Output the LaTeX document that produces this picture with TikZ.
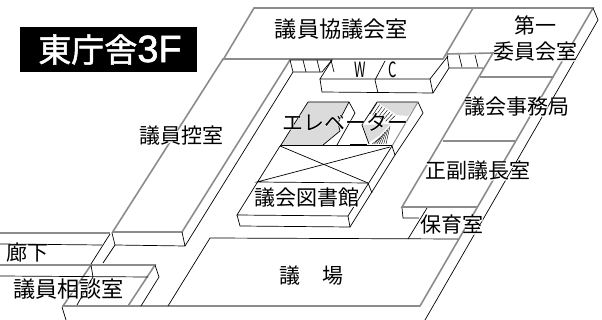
\documentclass[tikz,border=0pt]{standalone}
\usepackage{graphicx}
\usepackage{fontspec}
\setmainfont{Noto Sans CJK JP}
\newfontfamily\halofont[FakeBold=4]{Noto Sans CJK JP}
\newfontfamily\titlekanji[FakeBold=1.5]{Noto Sans CJK JP}
\newfontfamily\titlefont[FakeBold=1.5]{Liberation Sans}
\definecolor{wallgray}{gray}{0.55}
\definecolor{floorgray}{gray}{0.86}
\tikzset{
    wall/.style={color=wallgray, line width=1.6pt},
    edge/.style={color=black, line width=0.7pt},
    roomtext/.style={inner sep=0pt, font=\fontsize{21}{21}\selectfont},
    halotext/.style={inner sep=0pt, text=white, font=\halofont\fontsize{21}{21}\selectfont},
}
\newcommand{\roomlabel}[3]{
\node[halotext] (#1halo) at (#2) {#3};
\node[roomtext] (#1) at (#2) {#3};
}
\newcommand{\widesize}{\fontsize{22.2}{22.2}\selectfont}
\begin{document}
\begin{tikzpicture}[x=1pt,y=-1pt]
\useasboundingbox (0,0) rectangle (602,320);
\fill[white] (0,0) rectangle (602,320);

\fill[black] (20,27) rectangle (197,72);
\node[text=white, inner sep=0pt] (title) at (110,49.5) {\fontsize{33}{33}\selectfont\titlekanji 東庁舎\fontsize{38}{38}\selectfont\titlefont 3F};

\draw[wall] (223,60)--(254,8)--(593,8)--(420,306)--(62,306);
\draw[wall] (473,8)--(443,59)--(223,59)--(112,233);
\draw[wall] (290,60)--(182,232)--(112,232);
\draw[wall] (447,54)--(493,53)--(402,207)--(477,207);
\draw[wall] (480,77)--(554,77);
\draw[wall] (443,141)--(515,141);
\draw[wall] (0,233)--(110,233);
\draw[wall] (0,265)--(155,265)--(128,306);
\draw[wall] (91,265)--(63,306);

\draw[edge] (593,8)--(598,20)--(425,320);
\draw[edge] (112,233)--(115,245)--(185,246)--(182,232);
\draw[edge] (185,246)--(293,72)--(322,72)--(332,60)--(290,60)--(293,72);
\foreach \i in {0,1,2} \draw[edge] (303+\i*14,60)--(306+\i*14,72);
\draw[edge] (110,234)--(91,264);
\draw[edge] (115,245)--(103,263);
\draw[edge] (0,244)--(102,245);
\draw[edge] (0,276)--(148,277);
\draw[edge] (155,265)--(159,277)--(141,306);
\draw[edge] (91,265)--(93,277)--(77,305);
\draw[edge] (62,307)--(66,320);

\draw[edge] (332,60)--(320,79)--(430,79)--(448,56);
\draw[edge] (320,79)--(322,92)--(433,93)--(430,79);
\draw[edge] (433,93)--(449,68)--(483,68);
\draw[edge] (385,61)--(375,80)--(378,93);
\draw[edge] (447,55)--(449,68);
\draw[edge] (459,55)--(462,67);
\draw[edge] (475,55)--(478,67);

\draw[edge] (402,208)--(403,218)--(419,218);
\draw[edge] (427,208)--(408,239);
\draw[edge] (168,306)--(210,238)--(458,239);

\fill[floorgray] (308,102)--(349,102)--(338,123)--(340,131)--(323,145)--(281,145)--cycle;
\draw[edge] (308,102)--(349,102)--(355,113)--(337,145);
\draw[edge] (308,102)--(281,145);
\draw[edge] (349,102)--(338,123)--(340,131)--(323,145);

\fill[floorgray] (377,102)--(418,102)--(408,116)--(397,115)--cycle;
\fill[floorgray] (362,125)--(390,124)--(380,135)--(368,143)--cycle;
\foreach \i in {0,...,7} \draw[color=black, line width=0.4pt] (377+\i*2.6,103+\i*1.8)--(370+\i*2.6,114+\i*1.2);
\foreach \i in {0,...,6} \draw[color=black, line width=0.4pt] (390-\i*1.7,126+\i*2)--(386-\i*2.3,144);
\draw[edge] (377,102)--(362,125)--(369,144);
\draw[edge] (377,102)--(418,102)--(423,113)--(395,155);
\draw[wall, line width=1pt] (418,102)--(392,146);
\draw[edge] (350,144)--(367,144);

\draw[edge, line width=1pt] (280,146)--(392,146);
\draw[edge] (280,146)--(237,215)--(348,216)--(392,146);
\draw[edge] (280,146)--(368,183);
\draw[edge] (390,147)--(257,182)--(368,183);
\draw[edge] (237,215)--(240,226)--(350,227)--(348,216);
\draw[edge] (350,227)--(395,155)--(392,146);
\draw[edge] (368,183)--(372,193);

\roomlabel{kyogi}{341.5,29}{\widesize 議員協議会室}
\roomlabel{daiichi}{535,25}{第一}
\roomlabel{iinkai}{535.5,52}{委員会室}
\roomlabel{jimu}{517,107}{議会事務局}
\roomlabel{seifuku}{477.5,171}{正副議長室}
\roomlabel{hoiku}{452,225}{保育室}
\roomlabel{hikae}{181,136}{議員控室}
\roomlabel{ev}{345,122}{エレベーター}
\roomlabel{tosho}{307,198}{議会図書館}
\roomlabel{gi}{290,276}{議}
\roomlabel{jo}{333,276}{場}
\roomlabel{roka}{27,253}{廊下}
\roomlabel{sodan}{68.5,289}{\widesize 議員相談室}
\node[inner sep=0pt] (w) at (360.5,70) {\scalebox{0.62}[1]{\fontsize{21}{21}\selectfont W}};
\node[inner sep=0pt] (c) at (392.5,70) {\scalebox{0.62}[1]{\fontsize{21}{21}\selectfont C}};
\end{tikzpicture}
\end{document}
